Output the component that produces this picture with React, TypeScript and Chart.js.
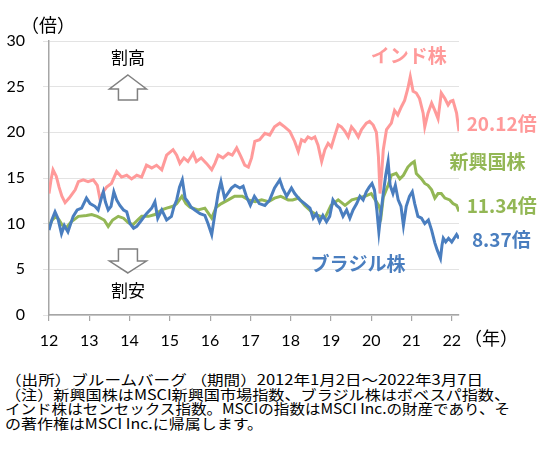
import React, { useEffect, useLayoutEffect, useRef } from "react";
import { Chart, registerables } from "chart.js";

Chart.register(...registerables);

// ---- tick values ----
const X_TICKS = [2012, 2013, 2014, 2015, 2016, 2017, 2018, 2019, 2020, 2021, 2022];
const Y_TICKS = [0, 5, 10, 15, 20, 25, 30];

// ---- India (Sensex) PER ----
const INDIA_X = [
  2012.0, 2012.05, 2012.1, 2012.18, 2012.25, 2012.32, 2012.4, 2012.5, 2012.55, 2012.65,
  2012.73, 2012.85, 2012.97, 2013.1, 2013.2, 2013.27, 2013.35, 2013.43, 2013.55, 2013.68,
  2013.8, 2013.93, 2014.05, 2014.18, 2014.3, 2014.42, 2014.55, 2014.67, 2014.8, 2014.92,
  2015.08, 2015.17, 2015.25, 2015.35, 2015.45, 2015.58, 2015.66, 2015.78, 2015.91, 2016.04,
  2016.12, 2016.2, 2016.32, 2016.45, 2016.55, 2016.66, 2016.76, 2016.86, 2016.95, 2017.03,
  2017.11, 2017.23, 2017.36, 2017.48, 2017.6, 2017.73, 2017.85, 2017.98, 2018.1, 2018.19,
  2018.27, 2018.35, 2018.43, 2018.52, 2018.6, 2018.68, 2018.77, 2018.85, 2018.93, 2019.01,
  2019.1, 2019.18, 2019.26, 2019.35, 2019.43, 2019.51, 2019.6, 2019.68, 2019.76, 2019.88,
  2019.96, 2020.05, 2020.13, 2020.18, 2020.22, 2020.26, 2020.3, 2020.38, 2020.5, 2020.58,
  2020.66, 2020.75, 2020.83, 2020.91, 2020.97, 2021.04, 2021.12, 2021.2, 2021.29, 2021.33,
  2021.41, 2021.5, 2021.58, 2021.66, 2021.74, 2021.83, 2021.91, 2021.97, 2022.03, 2022.12,
  2022.18,
];
const INDIA_Y = [
  13.3, 14.8, 15.9, 15.2, 14.0, 13.0, 12.3, 12.8, 13.1, 13.7,
  14.6, 14.8, 14.6, 14.8, 14.2, 12.6, 13.5, 14.0, 14.4, 15.7,
  15.1, 15.3, 14.9, 15.3, 15.1, 16.4, 16.1, 16.4, 15.9, 17.5,
  18.1, 17.5, 16.6, 17.2, 16.8, 17.7, 16.8, 17.2, 16.6, 15.9,
  16.6, 17.5, 17.2, 17.7, 17.5, 18.3, 17.4, 16.4, 16.2, 17.2,
  19.0, 19.2, 19.9, 19.7, 20.6, 21.0, 20.6, 20.1, 19.0, 17.9,
  19.2, 19.0, 19.5, 19.3, 19.5, 18.6, 16.8, 18.1, 18.8, 18.4,
  19.7, 20.8, 20.6, 20.1, 19.5, 20.6, 20.1, 19.5, 20.3, 21.0,
  21.2, 20.8, 20.0, 17.3, 13.3, 15.5, 18.1, 20.3, 21.0, 22.4,
  21.9, 22.8, 23.5, 24.8, 26.1, 24.5, 24.3, 23.7, 22.1, 20.6,
  22.1, 23.2, 22.4, 21.5, 24.3, 23.7, 23.0, 23.4, 23.5, 22.1,
  20.12,
];

// ---- Emerging markets (MSCI EM) PER ----
const EM_X = [
  2012.0, 2012.08, 2012.17, 2012.25, 2012.32, 2012.42, 2012.55, 2012.73, 2012.93, 2013.06,
  2013.2, 2013.37, 2013.47, 2013.58, 2013.72, 2013.85, 2013.97, 2014.09, 2014.2, 2014.3,
  2014.47, 2014.63, 2014.8, 2014.92, 2015.08, 2015.17, 2015.3, 2015.4, 2015.5, 2015.7,
  2015.87, 2016.04, 2016.15, 2016.28, 2016.45, 2016.61, 2016.8, 2016.95, 2017.12, 2017.28,
  2017.45, 2017.6, 2017.75, 2017.94, 2018.05, 2018.2, 2018.35, 2018.52, 2018.68, 2018.85,
  2019.0, 2019.18, 2019.35, 2019.52, 2019.68, 2019.84, 2020.0, 2020.1, 2020.2, 2020.25,
  2020.3, 2020.42, 2020.5, 2020.62, 2020.71, 2020.8, 2020.91, 2021.0, 2021.07, 2021.12,
  2021.25, 2021.33, 2021.41, 2021.5, 2021.58, 2021.66, 2021.74, 2021.83, 2021.95, 2022.03,
  2022.12, 2022.18,
];
const EM_Y = [
  9.7, 10.4, 10.8, 10.4, 9.9, 9.5, 10.2, 10.8, 10.9, 11.0,
  10.8, 10.4, 9.7, 10.4, 10.8, 10.6, 10.1, 9.9, 10.4, 10.8,
  10.8, 11.0, 11.5, 11.7, 11.9, 12.2, 13.0, 12.2, 11.8, 11.5,
  11.7, 10.6, 11.8, 12.2, 12.6, 13.0, 13.0, 12.6, 12.4, 12.6,
  12.4, 12.8, 13.0, 12.6, 12.6, 12.8, 12.0, 11.3, 10.9, 10.6,
  12.0, 12.6, 12.0, 12.6, 12.8, 13.0, 13.3, 12.6, 11.9, 11.0,
  12.9, 14.2, 15.3, 15.5, 14.9, 15.3, 16.2, 16.6, 16.8, 15.5,
  14.9, 14.4, 14.2, 13.7, 12.8, 13.3, 13.3, 12.8, 12.6, 12.2,
  12.0, 11.34,
];

// ---- Brazil (Bovespa) PER ----
const BR_X = [
  2012.0, 2012.07, 2012.15, 2012.22, 2012.31, 2012.38, 2012.47, 2012.6, 2012.7, 2012.81,
  2012.93, 2013.02, 2013.14, 2013.22, 2013.3, 2013.35, 2013.4, 2013.47, 2013.54, 2013.61,
  2013.68, 2013.76, 2013.85, 2013.93, 2014.01, 2014.1, 2014.18, 2014.3, 2014.42, 2014.55,
  2014.63, 2014.7, 2014.8, 2014.92, 2015.04, 2015.1, 2015.17, 2015.24, 2015.31, 2015.38,
  2015.45, 2015.53, 2015.62, 2015.75, 2015.87, 2015.95, 2016.04, 2016.12, 2016.2, 2016.27,
  2016.36, 2016.53, 2016.62, 2016.74, 2016.82, 2016.9, 2017.0, 2017.1, 2017.22, 2017.36,
  2017.48, 2017.6, 2017.73, 2017.8, 2017.9, 2018.02, 2018.1, 2018.23, 2018.35, 2018.48,
  2018.56, 2018.64, 2018.72, 2018.8, 2018.89, 2018.97, 2019.05, 2019.14, 2019.22, 2019.3,
  2019.39, 2019.47, 2019.55, 2019.64, 2019.72, 2019.8, 2019.88, 2019.95, 2020.02, 2020.08,
  2020.14, 2020.19, 2020.24, 2020.3, 2020.36, 2020.42, 2020.47, 2020.54, 2020.6, 2020.67,
  2020.74, 2020.8, 2020.87, 2020.95, 2021.02, 2021.08, 2021.16, 2021.25, 2021.33, 2021.42,
  2021.5, 2021.58, 2021.64, 2021.72, 2021.76, 2021.79, 2021.85, 2021.92, 2022.0, 2022.06,
  2022.12, 2022.18,
];
const BR_Y = [
  9.3, 10.4, 11.3, 10.6, 8.9, 9.8, 9.1, 10.8, 11.5, 11.7,
  12.8, 12.2, 11.9, 11.5, 12.8, 13.5, 12.4, 11.5, 11.9, 13.5,
  12.6, 12.0, 11.5, 11.3, 10.0, 9.5, 9.7, 10.4, 11.1, 11.7,
  12.4, 10.6, 11.5, 10.4, 10.8, 11.8, 12.6, 14.0, 14.8, 12.8,
  12.4, 11.8, 11.5, 11.1, 10.9, 10.0, 8.8, 11.1, 13.3, 14.6,
  12.8, 13.9, 14.2, 13.9, 14.1, 13.0, 12.0, 13.0, 12.2, 12.0,
  12.6, 13.9, 14.8, 13.9, 13.0, 13.9, 13.3, 12.6, 12.2, 11.7,
  10.6, 11.1, 10.2, 10.9, 10.2, 10.8, 12.6, 12.0, 11.7, 10.8,
  11.5, 10.6, 11.5, 12.2, 13.0, 12.6, 13.5, 14.0, 14.4, 13.7,
  11.5, 9.1, 11.1, 13.3, 15.3, 16.8, 14.2, 13.3, 14.2, 12.6,
  11.9, 9.8, 11.9, 13.0, 13.5, 12.2, 10.8, 10.6, 10.0, 10.4,
  9.3, 7.9, 7.1, 6.2, 7.7, 8.4, 8.0, 8.4, 8.0, 8.4,
  8.8, 8.37,
];

const INDIA_COLOR = "#FF9A9A";
const EM_COLOR = "#93B755";
const BR_COLOR = "#4A7EBF";

const CJK = '"Noto Sans CJK JP", "Noto Sans", sans-serif';
const NUM = 'Lato, "Noto Sans", sans-serif';

const FOOTNOTE = [
  "（出所）ブルームバーグ （期間）2012年1月2日～2022年3月7日",
  "（注）新興国株はMSCI新興国市場指数、ブラジル株はボベスパ指数、",
  "インド株はセンセックス指数。MSCIの指数はMSCI Inc.の財産であり、そ",
  "の著作権はMSCI Inc.に帰属します。",
];
const FOOTNOTE_WIDTHS = [478, 505, 505, 258];

function pts(xs: number[], ys: number[]) {
  return xs.map((x, i) => ({ x, y: ys[i] }));
}

const annotations = {
  id: "annotations",
  afterDraw(chart: any) {
    const ctx = chart.ctx as CanvasRenderingContext2D;
    const xs = chart.scales.x;
    const ys = chart.scales.y;
    const X = (v: number) => xs.getPixelForValue(v);
    const Y = (v: number) => ys.getPixelForValue(v);
    ctx.save();
    ctx.textBaseline = "middle";

    // axis unit labels
    ctx.fillStyle = "#000";
    ctx.font = `18px ${CJK}`;
    ctx.textAlign = "center";
    ctx.fillText("（倍）", 48, 25);
    ctx.fillText("（年）", 491, 338);

    // 割高 / 割安
    ctx.font = `17px ${CJK}`;
    ctx.fillText("割高", X(2013.96), Y(28.14));
    ctx.fillText("割安", X(2013.96), Y(2.63));

    // arrows
    const cx = X(2013.96);
    const drawArrow = (tip: number, base: number, end: number) => {
      const ty = Y(tip), by = Y(base), ey = Y(end);
      ctx.beginPath();
      ctx.moveTo(cx, ty);
      ctx.lineTo(cx + 18.5, by);
      ctx.lineTo(cx + 9.5, by);
      ctx.lineTo(cx + 9.5, ey);
      ctx.lineTo(cx - 9.5, ey);
      ctx.lineTo(cx - 9.5, by);
      ctx.lineTo(cx - 18.5, by);
      ctx.closePath();
      ctx.fillStyle = "#fff";
      ctx.fill();
      ctx.strokeStyle = "#808080";
      ctx.lineWidth = 1.5;
      ctx.stroke();
    };
    drawArrow(26.28, 24.75, 23.54);
    drawArrow(4.6, 5.91, 7.23);

    // series labels
    ctx.font = `bold 19px ${CJK}`;
    ctx.fillStyle = INDIA_COLOR;
    ctx.textAlign = "center";
    ctx.fillText("インド株", X(2020.93), Y(28.36));
    ctx.textAlign = "left";
    ctx.fillText("20.12倍", X(2022.37), Y(20.91));

    ctx.fillStyle = EM_COLOR;
    ctx.textAlign = "center";
    ctx.fillText("新興国株", X(2022.89), Y(16.75));
    ctx.textAlign = "left";
    ctx.fillText("11.34倍", X(2022.37), Y(11.93));

    ctx.fillStyle = BR_COLOR;
    ctx.textAlign = "center";
    ctx.fillText("ブラジル株", X(2019.67), Y(5.58));
    ctx.textAlign = "left";
    ctx.fillText("8.37倍", X(2022.5), Y(8.21));

    ctx.restore();
  },
};

export default function App() {
  const ref = useRef<HTMLCanvasElement | null>(null);
  const lineRefs = useRef<(HTMLSpanElement | null)[]>([]);

  useLayoutEffect(() => {
    lineRefs.current.forEach((el, i) => {
      if (!el) return;
      el.style.transform = "none";
      const w = el.getBoundingClientRect().width;
      if (w > 0) el.style.transform = `scaleX(${FOOTNOTE_WIDTHS[i] / w})`;
    });
  }, []);

  useEffect(() => {
    if (!ref.current) return;
    const line = (label: string, data: any, color: string) => ({
      label,
      data,
      borderColor: color,
      backgroundColor: color,
      borderWidth: 3,
      pointRadius: 0,
      tension: 0,
      fill: false,
    });
    const chart = new Chart(ref.current, {
      type: "line",
      data: {
        datasets: [
          line("ブラジル株", pts(BR_X, BR_Y), BR_COLOR),
          line("新興国株", pts(EM_X, EM_Y), EM_COLOR),
          line("インド株", pts(INDIA_X, INDIA_Y), INDIA_COLOR),
        ],
      },
      options: {
        animation: false,
        responsive: false,
        devicePixelRatio: window.devicePixelRatio || 1,
        layout: { padding: { top: 41, right: 81, left: 0, bottom: 0 } },
        plugins: {
          legend: { display: false },
          tooltip: { enabled: false },
          title: { display: false },
        },
        scales: {
          x: {
            type: "linear",
            min: 2012,
            max: 2022.18,
            afterBuildTicks: (s: any) => {
              s.ticks = X_TICKS.map((v) => ({ value: v }));
            },
            afterFit: (s: any) => {
              s.height = 35;
            },
            ticks: {
              callback: (v: any) => String(Number(v) % 100),
              font: { family: NUM, size: 16 },
              color: "#000",
              padding: 10,
              maxRotation: 0,
              autoSkip: false,
            },
            grid: {
              drawOnChartArea: false,
              drawTicks: true,
              tickLength: 6,
              color: "#A6A6A6",
              lineWidth: 1.2,
            },
            border: { display: true, color: "#A6A6A6", width: 1.5 },
          },
          y: {
            type: "linear",
            min: 0,
            max: 30,
            afterBuildTicks: (s: any) => {
              s.ticks = Y_TICKS.map((v) => ({ value: v }));
            },
            afterFit: (s: any) => {
              s.width = 49;
            },
            ticks: {
              font: { family: NUM, size: 16 },
              color: "#000",
              padding: 18,
            },
            grid: {
              color: "#E3E3E3",
              lineWidth: 1,
              drawTicks: true,
              tickLength: 6,
            },
            border: { display: true, color: "#A6A6A6", width: 1.5 },
          },
        },
      },
      plugins: [annotations],
    });
    return () => chart.destroy();
  }, []);

  return (
    <div
      style={{
        position: "fixed",
        left: 0,
        top: 0,
        width: 540,
        height: 462,
        background: "#fff",
        overflow: "hidden",
      }}
    >
      <canvas ref={ref} width={540} height={350} style={{ position: "absolute", left: 0, top: 0, width: 540, height: 350 }} />
      <div
        style={{
          position: "absolute",
          left: 5,
          top: 372,
          fontFamily: CJK,
          fontSize: 14,
          lineHeight: "14.5px",
          color: "#000",
          whiteSpace: "nowrap",
        }}
      >
        {FOOTNOTE.map((t, i) => (
          <div key={i} style={{ height: 14.5 }}>
            <span
              ref={(el) => {
                lineRefs.current[i] = el;
              }}
              style={{ display: "inline-block", transformOrigin: "0 50%" }}
            >
              {t}
            </span>
          </div>
        ))}
      </div>
    </div>
  );
}
